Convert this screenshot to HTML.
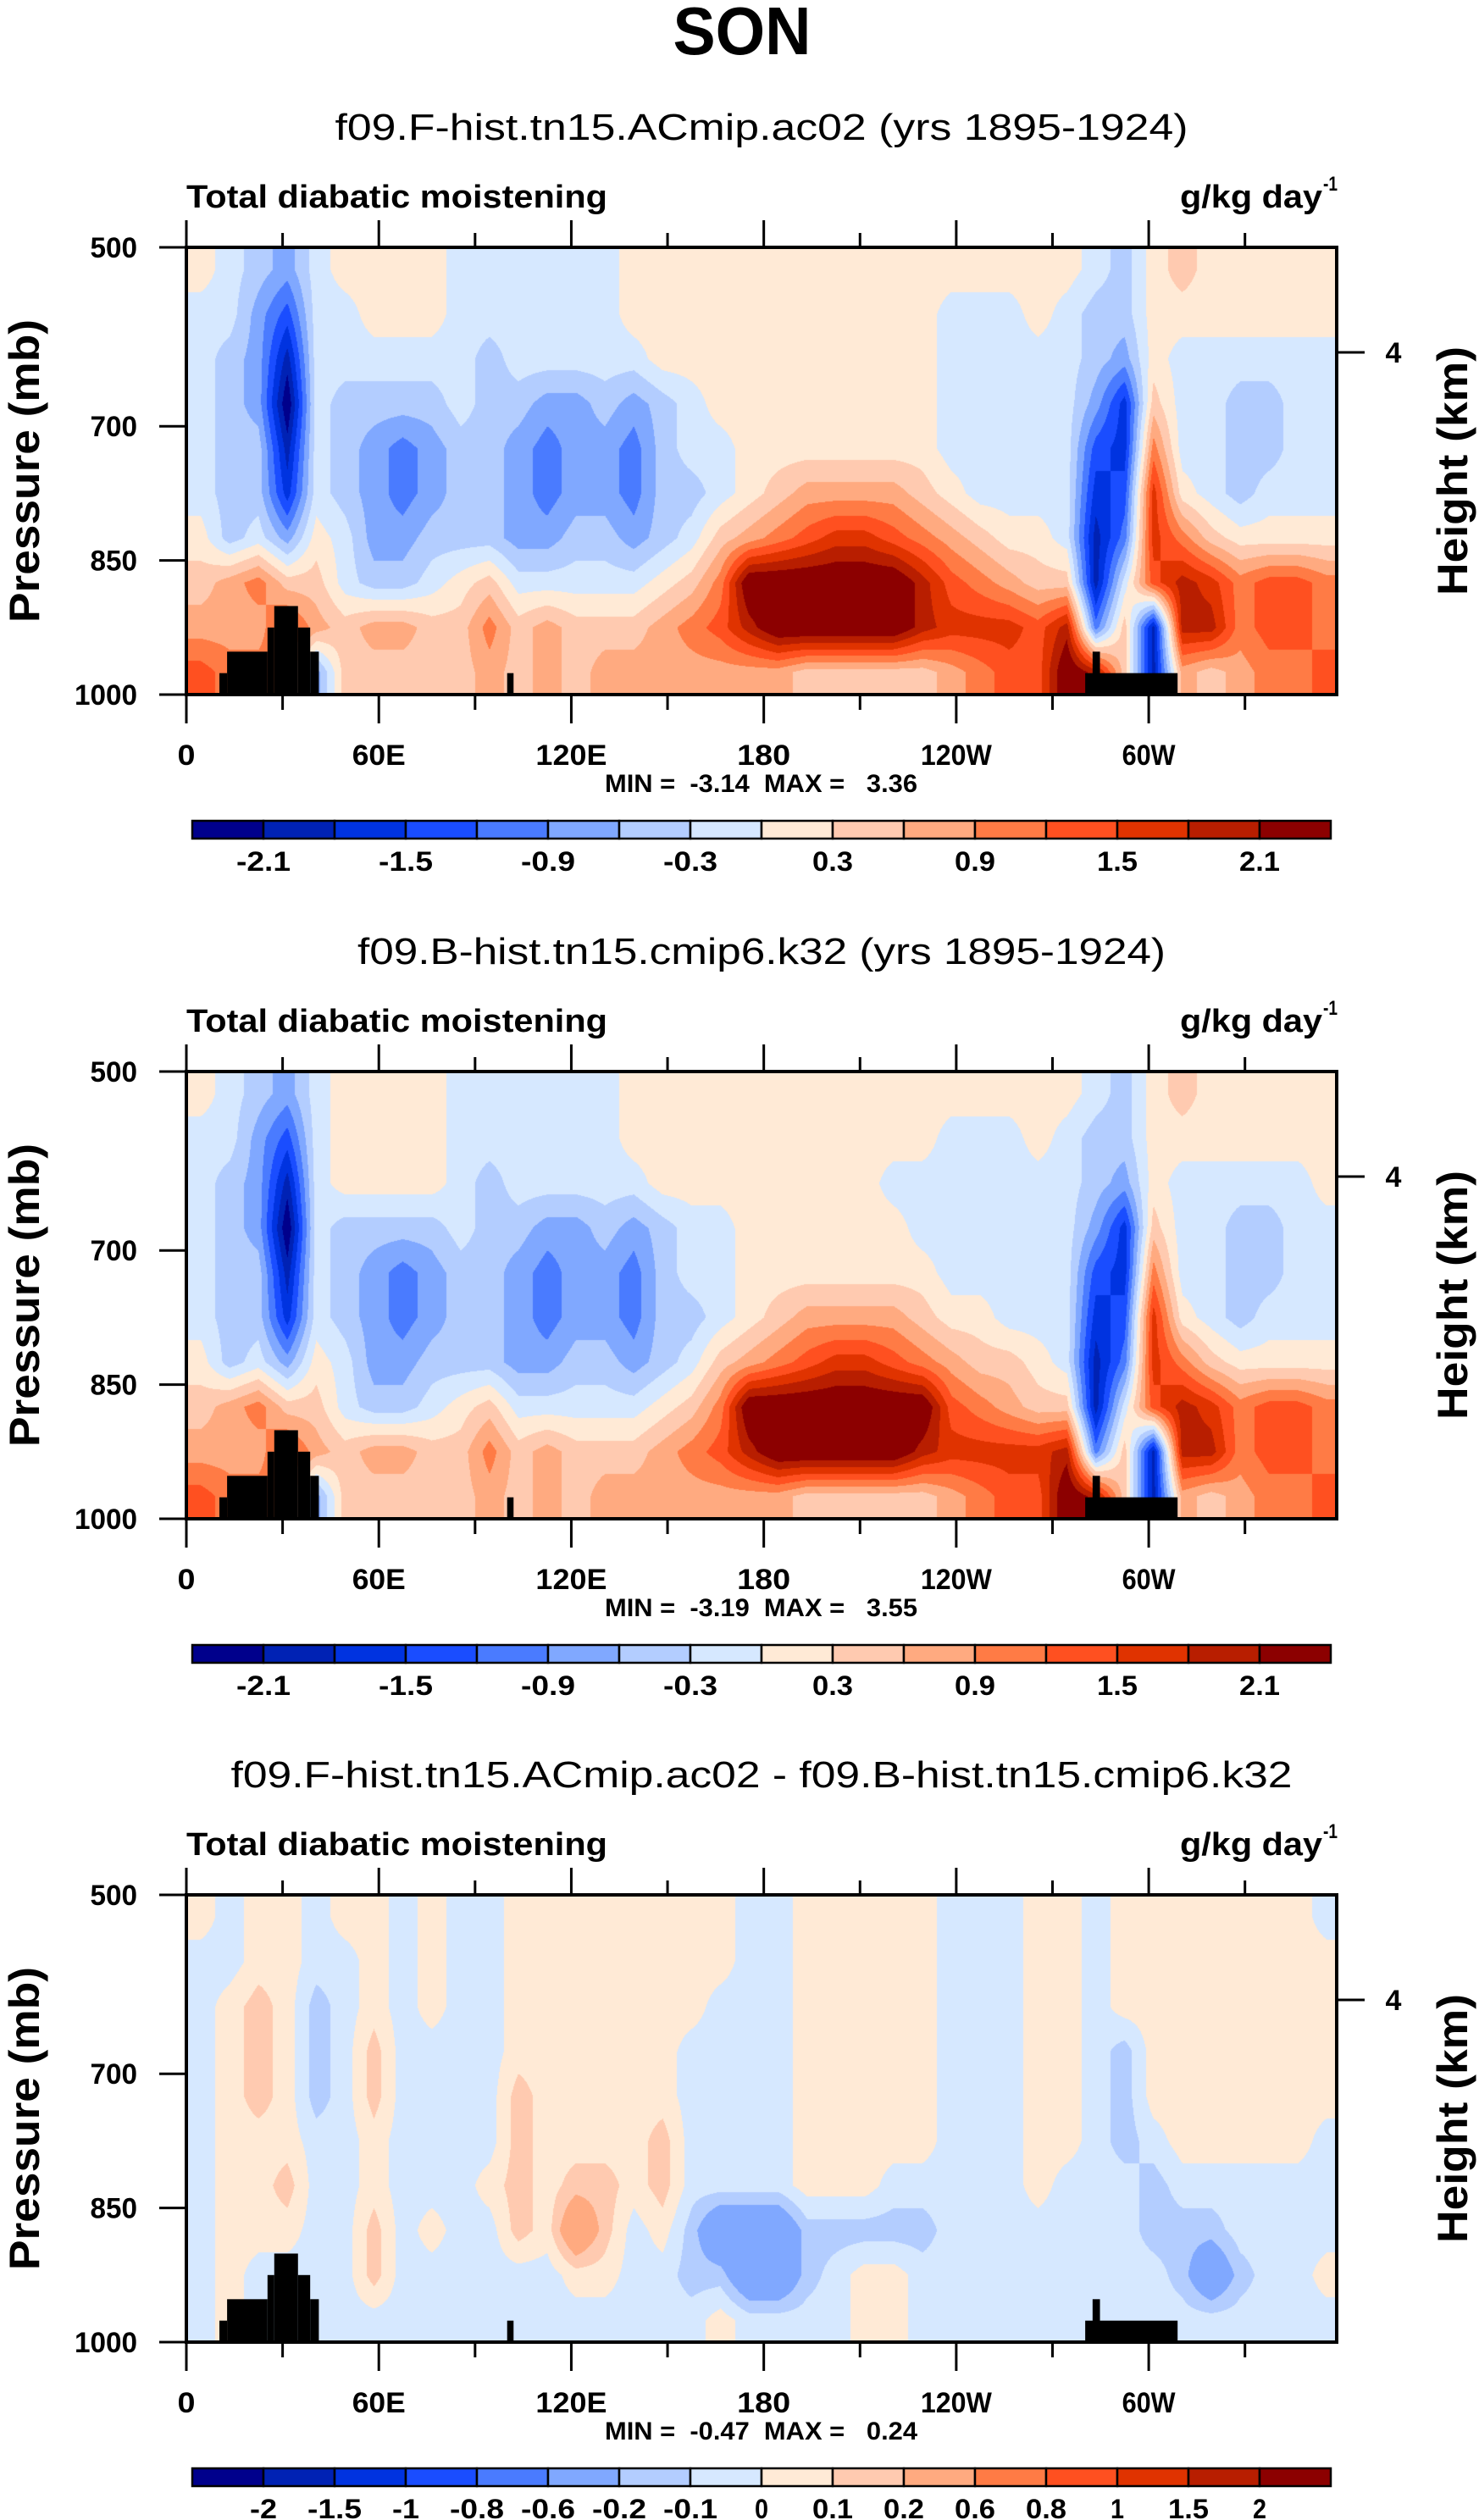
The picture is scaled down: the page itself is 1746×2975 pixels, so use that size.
<!DOCTYPE html>
<html><head><meta charset="utf-8">
<style>
html,body{margin:0;padding:0;background:#fff;}
#wrap{position:relative;width:1746px;height:2975px;overflow:hidden;background:#fff;}
canvas{position:absolute;}
svg{position:absolute;left:0;top:0;}
text{font-family:"Liberation Sans",sans-serif;fill:#000;}
.pre{white-space:pre;}
</style></head>
<body>
<div id="wrap">
<canvas id="c0" width="1358" height="528" style="left:220px;top:292px"></canvas>
<canvas id="c1" width="1358" height="528" style="left:220px;top:1265px"></canvas>
<canvas id="c2" width="1358" height="528" style="left:220px;top:2237px"></canvas>
<svg id="ov" width="1746" height="2975"></svg>
</div>
<script>
// ---- data ----
const lonCenters = [4.5,13.5,22.5,31.5,40.5,49.5,58.5,67.5,76.5,85.5,94.5,103.5,112.5,121.5,130.5,139.5,148.5,157.5,166.5,175.5,184.5,193.5,202.5,211.5,220.5,229.5,238.5,247.5,256.5,265.5,274.5,283.5,292.5,301.5,310.5,319.5,328.5,337.5,346.5,355.5];
const presCenters = [525,575,625,675,725,775,825,875,925,975];
const lonTicks = [0,60,120,180,240,300];
const lonTickLabels = ["0","60E","120E","180","120W","60W"];
const lonMinorTicks = [30,90,150,210,270,330];
const presTicks = [500,700,850,1000];
const presTickLabels = ["500","700","850","1000"];
const levelsA = [-2.1,-1.8,-1.5,-1.2,-0.9,-0.6,-0.3,0,0.3,0.6,0.9,1.2,1.5,1.8,2.1];
const levelLabelsA = ["-2.1","","-1.5","","-0.9","","-0.3","","0.3","","0.9","","1.5","","2.1"];
const levelsB = [-2,-1.5,-1,-0.8,-0.6,-0.2,-0.1,0,0.1,0.2,0.6,0.8,1,1.5,2];
const levelLabelsB = ["-2","-1.5","-1","-0.8","-0.6","-0.2","-0.1","0","0.1","0.2","0.6","0.8","1","1.5","2"];
const topoLonStart = [10.3,12.7,25.3,27.4,34.8,38.6,100,280.2,282.5];
const topoLonEnd   = [12.7,25.3,27.4,34.8,38.6,41.3,102,309,284.8];
const topoTop      = [976,952,925,901,925,952,976,976,952];

const field1 = [
[0.15,-0.15,-0.45,-0.75,-0.15,0.15,0.15,0.15,0.15,-0.15,-0.15,-0.15,-0.15,-0.15,-0.15,0.15,0.15,0.15,0.15,0.15,0.15,0.15,0.15,0.15,0.15,0.15,0.15,0.15,0.15,0.15,0.15,-0.15,-0.45,0.15,0.45,0.15,0.15,0.15,0.15,0.15],
[-0.15,-0.15,-0.75,-1.35,-0.15,-0.15,0.15,0.15,0.15,-0.15,-0.15,-0.15,-0.15,-0.15,-0.15,0.15,0.15,0.15,0.15,0.15,0.15,0.15,0.15,0.15,0.15,0.15,-0.15,-0.15,-0.15,0.15,-0.15,-0.45,-0.45,0.15,0.15,0.15,0.15,0.15,0.15,0.15],
[-0.15,-0.45,-0.75,-1.95,-0.15,-0.15,-0.15,-0.15,-0.15,-0.15,-0.45,-0.15,-0.15,-0.15,-0.15,-0.15,0.15,0.15,0.15,0.15,0.15,0.15,0.15,0.15,0.15,0.15,-0.15,-0.15,-0.15,-0.15,-0.15,-0.45,-0.75,0.15,-0.15,-0.15,-0.15,-0.15,-0.15,-0.15],
[-0.15,-0.45,-0.75,-2.4,-0.15,-0.45,-0.45,-0.45,-0.45,-0.15,-0.45,-0.45,-0.75,-0.75,-0.45,-0.75,-0.45,-0.15,0.15,0.15,0.15,0.15,0.15,0.15,0.15,0.15,-0.15,-0.15,-0.15,-0.15,-0.15,-0.75,-1.65,0.45,-0.15,-0.15,-0.45,-0.45,-0.15,-0.15],
[-0.15,-0.45,-0.45,-1.95,-0.15,-0.45,-0.75,-1.05,-0.75,-0.45,-0.45,-0.75,-1.05,-0.75,-0.75,-1.05,-0.45,-0.15,-0.15,0.15,0.15,0.15,0.15,0.15,0.15,0.15,-0.15,-0.15,-0.15,-0.15,-0.15,-1.35,-1.65,1.05,-0.15,-0.15,-0.45,-0.45,-0.15,-0.15],
[-0.15,-0.45,-0.45,-1.65,-0.15,-0.45,-0.75,-1.05,-0.75,-0.45,-0.45,-0.75,-1.05,-0.75,-0.75,-1.05,-0.45,-0.45,-0.15,0.15,0.45,0.75,0.75,0.75,0.75,0.45,0.15,-0.15,-0.15,-0.15,-0.15,-1.65,-1.35,1.65,0.15,-0.15,-0.45,-0.15,-0.15,-0.15],
[0.15,-0.45,-0.15,-0.75,0.15,-0.15,-0.75,-0.75,-0.45,-0.45,-0.45,-0.75,-0.75,-0.45,-0.45,-0.75,-0.45,-0.15,0.45,0.75,1.05,1.35,1.65,1.65,1.35,1.05,0.75,0.45,0.15,0.15,-0.15,-1.95,-1.05,1.65,1.05,0.45,0.15,0.15,0.15,0.15],
[0.45,0.75,1.05,0.45,0.45,-0.15,-0.45,-0.45,-0.15,0.15,0.45,-0.15,-0.15,-0.15,-0.15,-0.15,0.15,0.45,1.05,2.5,2.5,2.5,2.5,2.5,2.5,1.95,1.35,1.05,0.75,0.45,0.45,-1.95,-0.15,1.35,1.95,1.65,1.05,1.35,1.35,1.05],
[0.75,0.75,0.75,1.35,0.75,0.45,0.75,0.75,0.45,0.45,1.05,0.45,0.75,0.45,0.45,0.45,0.75,1.05,1.35,1.95,2.5,2.5,2.5,2.5,2.5,1.95,1.65,1.65,1.65,1.35,1.95,-1.05,0.45,-1.95,1.95,1.95,1.05,1.35,1.35,1.05],
[1.35,1.05,1.05,1.05,-0.75,0.45,0.45,0.45,0.45,0.45,0.75,0.45,0.75,0.45,0.75,0.75,0.75,0.75,0.75,0.75,0.75,0.45,0.45,0.45,0.45,0.45,0.75,1.05,1.35,1.35,2.5,1.95,0.45,-1.95,0.75,0.45,0.75,1.05,1.05,1.35]
];
const field2 = [
[0.15,-0.15,-0.45,-0.75,-0.15,0.15,0.15,0.15,0.15,-0.15,-0.15,-0.15,-0.15,-0.15,-0.15,0.15,0.15,0.15,0.15,0.15,0.15,0.15,0.15,0.15,0.15,0.15,0.15,0.15,0.15,0.15,0.15,-0.15,-0.45,0.15,0.45,0.15,0.15,0.15,0.15,0.15],
[-0.15,-0.15,-0.75,-1.35,-0.15,0.15,0.15,0.15,0.15,-0.15,-0.15,-0.15,-0.15,-0.15,-0.15,0.15,0.15,0.15,0.15,0.15,0.15,0.15,0.15,0.15,0.15,0.15,-0.15,-0.15,-0.15,0.15,-0.15,-0.45,-0.45,0.15,0.15,0.15,0.15,0.15,0.15,0.15],
[-0.15,-0.45,-0.75,-1.95,-0.15,0.15,0.15,0.15,0.15,-0.15,-0.45,-0.15,-0.15,-0.15,-0.15,-0.15,0.15,0.15,0.15,0.15,0.15,0.15,0.15,0.15,-0.15,-0.15,-0.15,-0.15,-0.15,-0.15,-0.15,-0.45,-0.75,0.15,-0.15,-0.15,-0.15,-0.15,-0.15,0.15],
[-0.15,-0.45,-0.75,-2.4,-0.15,-0.45,-0.45,-0.45,-0.45,-0.15,-0.45,-0.45,-0.75,-0.75,-0.45,-0.75,-0.45,-0.15,-0.15,0.15,0.15,0.15,0.15,0.15,0.15,-0.15,-0.15,-0.15,-0.15,-0.15,-0.15,-0.75,-1.65,0.45,-0.15,-0.15,-0.45,-0.45,-0.15,-0.15],
[-0.15,-0.45,-0.45,-1.95,-0.15,-0.45,-0.75,-1.05,-0.75,-0.45,-0.45,-0.75,-1.05,-0.75,-0.75,-1.05,-0.45,-0.15,-0.15,0.15,0.15,0.15,0.15,0.15,0.15,0.15,-0.15,-0.15,-0.15,-0.15,-0.15,-1.35,-1.65,1.05,-0.15,-0.15,-0.45,-0.45,-0.15,-0.15],
[-0.15,-0.45,-0.45,-1.65,-0.15,-0.45,-0.75,-1.05,-0.75,-0.45,-0.45,-0.75,-1.05,-0.75,-0.75,-1.05,-0.45,-0.45,-0.15,0.15,0.45,0.75,0.75,0.75,0.75,0.45,0.15,0.15,-0.15,-0.15,-0.15,-1.65,-1.35,1.65,0.15,-0.15,-0.45,-0.15,-0.15,-0.15],
[0.15,-0.45,-0.15,-0.75,0.15,-0.15,-0.75,-0.75,-0.45,-0.45,-0.45,-0.75,-0.75,-0.45,-0.45,-0.75,-0.45,-0.15,0.45,0.75,1.05,1.35,1.65,1.65,1.35,1.05,0.75,0.45,0.45,0.15,-0.15,-1.95,-1.05,1.65,1.05,0.45,0.15,0.15,0.15,0.15],
[0.45,0.75,1.05,0.45,0.45,-0.15,-0.45,-0.45,-0.15,0.15,0.45,-0.15,-0.15,-0.15,-0.15,-0.15,0.15,0.45,1.05,2.5,2.5,2.5,2.5,2.5,2.5,2.5,1.35,1.05,0.75,0.45,0.45,-1.95,-0.15,1.35,1.95,1.65,1.05,1.35,1.35,1.05],
[0.75,0.75,0.75,1.35,0.75,0.45,0.75,0.75,0.45,0.45,1.05,0.45,0.75,0.45,0.45,0.45,0.75,1.05,1.35,1.95,2.5,2.5,2.5,2.5,2.5,1.95,1.65,1.65,1.65,1.65,1.95,-1.05,0.45,-1.95,1.95,1.95,1.05,1.35,1.35,1.05],
[1.35,1.05,1.05,1.05,-0.75,0.45,0.45,0.45,0.45,0.45,0.75,0.45,0.75,0.45,0.75,0.75,0.75,0.75,0.75,0.75,0.75,0.45,0.45,0.45,0.45,0.45,0.75,1.05,1.35,1.35,2.5,1.95,0.45,-1.95,0.75,0.45,0.75,1.05,1.05,1.35]
];
const field3 = [
[0.05,-0.05,0.05,0.05,-0.05,0.05,0.05,-0.05,0.05,-0.05,-0.05,0.05,0.05,0.05,0.05,0.05,0.05,0.05,0.05,-0.05,-0.05,0.05,0.05,0.05,0.05,0.05,-0.05,-0.05,-0.05,0.05,0.05,-0.05,0.05,0.05,0.05,0.05,0.05,0.05,0.05,-0.05],
[-0.05,-0.05,0.05,0.05,-0.05,-0.05,0.05,-0.05,0.05,-0.05,-0.05,0.05,0.05,0.05,0.05,0.05,0.05,0.05,0.05,-0.05,-0.05,0.05,0.05,0.05,0.05,0.05,-0.05,-0.05,-0.05,0.05,0.05,-0.05,0.05,0.05,0.05,0.05,0.05,0.05,0.05,0.05],
[-0.05,0.05,0.15,0.05,-0.15,-0.05,0.05,-0.05,0.05,-0.05,-0.05,0.05,0.05,0.05,0.05,0.05,0.05,0.05,-0.05,-0.05,-0.05,0.05,0.05,0.05,0.05,0.05,-0.05,-0.05,-0.05,0.05,0.05,-0.05,0.05,0.05,0.05,0.05,0.05,0.05,0.05,0.05],
[-0.05,0.05,0.15,0.05,-0.15,-0.05,0.15,-0.05,-0.05,-0.05,-0.05,0.05,0.05,0.05,0.05,0.05,0.05,-0.05,-0.05,-0.05,-0.05,0.05,0.05,0.05,0.05,0.05,-0.05,-0.05,-0.05,0.05,0.05,-0.05,-0.15,0.05,0.05,0.05,0.05,0.05,0.05,0.05],
[-0.05,0.05,0.15,0.05,-0.15,-0.05,0.15,-0.05,-0.05,-0.05,-0.05,0.15,0.05,0.05,0.05,0.05,0.05,-0.05,-0.05,-0.05,-0.05,0.05,0.05,0.05,0.05,0.05,-0.05,-0.05,-0.05,0.05,0.05,-0.05,-0.15,0.05,0.05,0.05,0.05,0.05,0.05,0.05],
[-0.05,0.05,0.05,0.05,-0.05,-0.05,0.05,-0.05,-0.05,-0.05,-0.05,0.15,0.05,0.05,0.05,0.05,0.15,-0.05,-0.05,-0.05,-0.05,0.05,0.05,0.05,0.05,0.05,-0.05,-0.05,-0.05,0.05,0.05,-0.05,-0.15,-0.05,0.05,0.05,0.05,0.05,0.05,-0.05],
[-0.05,0.05,0.05,0.15,-0.05,-0.05,0.05,-0.05,-0.05,-0.05,0.05,0.15,0.05,0.15,0.15,0.05,0.15,-0.05,-0.05,-0.05,-0.05,0.05,0.05,0.05,-0.05,-0.05,-0.05,-0.05,-0.05,0.05,-0.05,-0.05,-0.05,-0.15,-0.05,-0.05,-0.05,-0.05,-0.05,-0.05],
[-0.05,0.05,0.05,0.05,-0.05,-0.05,0.15,-0.05,0.05,-0.05,-0.05,0.15,0.05,0.4,0.15,-0.05,0.05,-0.15,-0.4,-0.4,-0.4,-0.15,-0.15,-0.15,-0.15,-0.15,-0.05,-0.05,-0.05,-0.05,-0.05,-0.05,-0.05,-0.15,-0.15,-0.15,-0.05,-0.05,-0.05,-0.05],
[-0.05,0.05,-0.05,-0.05,-0.05,-0.05,0.15,-0.05,-0.05,-0.05,-0.05,-0.05,-0.05,0.05,0.05,-0.05,-0.05,-0.15,-0.15,-0.4,-0.4,-0.15,-0.05,0.05,0.05,-0.05,-0.05,-0.05,-0.05,-0.05,-0.05,-0.05,-0.05,-0.05,-0.15,-0.4,-0.15,-0.05,-0.05,0.05],
[-0.05,0.05,-0.05,-0.05,-0.05,-0.05,-0.05,-0.05,-0.05,-0.05,-0.05,-0.05,-0.05,-0.05,-0.05,-0.05,-0.05,-0.05,0.05,-0.05,-0.05,-0.05,-0.05,0.05,0.05,-0.05,-0.05,-0.05,-0.05,-0.05,-0.05,-0.05,-0.05,-0.05,-0.05,-0.05,-0.05,-0.05,-0.05,-0.05]
];
const titles = ["f09.F-hist.tn15.ACmip.ac02 (yrs 1895-1924)","f09.B-hist.tn15.cmip6.k32 (yrs 1895-1924)","f09.F-hist.tn15.ACmip.ac02 - f09.B-hist.tn15.cmip6.k32"];
const minmaxText = ["MIN =  -3.14  MAX =   3.36","MIN =  -3.19  MAX =   3.55","MIN =  -0.47  MAX =   0.24"];

// ---- layout ----
const COLORS = ["#00008c","#0022b4","#0033e0","#1a4dff","#4a7bff","#80a8ff","#b3cdff","#d6e8ff","#ffead6","#ffcab0","#ffaa80","#ff7b45","#ff5020","#e03300","#b81e00","#8c0000"];
const PX0=220, PW=1358, PH=528;
const TOPS=[292,1265,2237];
const TITLE_W=[1007,954,1253];
const lonX = lon => PX0 + lon*3.787;
const presY = (T,p) => T + (p-500)/500*PH;
const NS="http://www.w3.org/2000/svg";
const svg=document.getElementById('ov');
function el(tag, attrs, parent){const e=document.createElementNS(NS,tag);for(const k in attrs)e.setAttribute(k,attrs[k]);(parent||svg).appendChild(e);return e;}
function txt(s, attrs, parent){const e=el('text',attrs,parent);e.textContent=s;return e;}
function hexRgb(h){return [parseInt(h.substr(1,2),16),parseInt(h.substr(3,2),16),parseInt(h.substr(5,2),16)];}
const RGB=COLORS.map(hexRgb);
function binOf(v,levels){let i=0;while(i<levels.length && v>=levels[i])i++;return i;}

function drawField(canvasId, field, levels){
  const cv=document.getElementById(canvasId);const ctx=cv.getContext('2d');
  const img=ctx.createImageData(PW,PH);const d=img.data;
  const nc=lonCenters.length, nr=presCenters.length;
  for(let py=0;py<PH;py++){
    const p=500+(py+0.5)/PH*500;
    let fr=(p-presCenters[0])/(presCenters[1]-presCenters[0]);
    fr=Math.max(0,Math.min(nr-1,fr));
    const r0=Math.min(nr-2,Math.floor(fr)), tr=fr-r0;
    for(let px=0;px<PW;px++){
      const lon=(px+0.5)/3.787;
      let fc=(lon-lonCenters[0])/(lonCenters[1]-lonCenters[0]);
      fc=Math.max(0,Math.min(nc-1,fc));
      const c0=Math.min(nc-2,Math.floor(fc)), tc=fc-c0;
      const v=(field[r0][c0]*(1-tc)+field[r0][c0+1]*tc)*(1-tr)+(field[r0+1][c0]*(1-tc)+field[r0+1][c0+1]*tc)*tr;
      const col=RGB[binOf(v,levels)];const o=(py*PW+px)*4;
      d[o]=col[0];d[o+1]=col[1];d[o+2]=col[2];d[o+3]=255;
    }
  }
  ctx.putImageData(img,0,0);
}

const son=txt("SON",{x:876,y:64,'text-anchor':'middle','font-size':80,'font-weight':'bold',textLength:163,lengthAdjust:'spacingAndGlyphs'});



const fields=[field1,field2,field3];
for(let k=0;k<3;k++){
  const T=TOPS[k], B=T+PH;
  const levels = k<2?levelsA:levelsB;
  const labels = k<2?levelLabelsA:levelLabelsB;
  drawField('c'+k, fields[k], levels);
  const g=el('g',{});
  
  
  const t=txt(titles[k],{x:899,y:T-127,'text-anchor':'middle','font-size':44,textLength:TITLE_W[k],lengthAdjust:'spacingAndGlyphs'},g);
  
  
  const lt=txt("Total diabatic moistening",{x:220,y:T-47,'font-size':38,'font-weight':'bold',textLength:497,lengthAdjust:'spacingAndGlyphs'},g);
  
  
  const ut=txt("g/kg day",{x:1393,y:T-47,'font-size':38,'font-weight':'bold',textLength:168,lengthAdjust:'spacingAndGlyphs'},g);
  
  
  const us=txt("-1",{x:1562,y:T-67,'font-size':24,'font-weight':'bold',textLength:17,lengthAdjust:'spacingAndGlyphs'},g);
  
  
  for(let i=0;i<topoTop.length;i++){
    const x0=lonX(topoLonStart[i]), x1=lonX(topoLonEnd[i]), y0=presY(T,topoTop[i]);
    const r=el('rect',{x:x0,y:y0,width:x1-x0,height:B-y0,fill:'#000'},g);
    
    
  }
  const fr=el('rect',{x:PX0,y:T,width:PW,height:PH,fill:'none',stroke:'#000','stroke-width':4},g);
  
  
  lonTicks.forEach((lon,i)=>{
    const x=lonX(lon);
    el('line',{x1:x,y1:T,x2:x,y2:T-32,stroke:'#000','stroke-width':3},g);
    el('line',{x1:x,y1:B,x2:x,y2:B+34,stroke:'#000','stroke-width':3},g);
    const l=txt(lonTickLabels[i],{x:x,y:B+83,'text-anchor':'middle','font-size':34,'font-weight':'bold',textLength:lonTickLabels[i].length*21,lengthAdjust:'spacingAndGlyphs'},g);
    
    
  });
  lonMinorTicks.forEach(lon=>{
    const x=lonX(lon);
    el('line',{x1:x,y1:T,x2:x,y2:T-17,stroke:'#000','stroke-width':3},g);
    el('line',{x1:x,y1:B,x2:x,y2:B+18,stroke:'#000','stroke-width':3},g);
  });
  presTicks.forEach((p,i)=>{
    const y=presY(T,p);
    el('line',{x1:188,y1:y,x2:PX0,y2:y,stroke:'#000','stroke-width':3},g);
    const l=txt(presTickLabels[i],{x:162,y:y+12,'text-anchor':'end','font-size':34,'font-weight':'bold',textLength:presTickLabels[i].length*18.5,lengthAdjust:'spacingAndGlyphs'},g);
    
    
  });
  el('line',{x1:1578,y1:T+124,x2:1611,y2:T+124,stroke:'#000','stroke-width':3},g);
  const h4=txt("4",{x:1645,y:T+136,'text-anchor':'middle','font-size':34,'font-weight':'bold'},g);
  
  
  const ya=txt("Pressure (mb)",{x:0,y:0,'text-anchor':'middle','font-size':50,'font-weight':'bold',textLength:358,lengthAdjust:'spacingAndGlyphs',transform:`translate(46,${T+264}) rotate(-90)`},g);
  
  
  const yb=txt("Height (km)",{x:0,y:0,'text-anchor':'middle','font-size':50,'font-weight':'bold',textLength:294,lengthAdjust:'spacingAndGlyphs',transform:`translate(1732,${T+264}) rotate(-90)`},g);
  
  
  const mm=txt(minmaxText[k],{x:714,y:B+115,'font-size':30,'font-weight':'bold',textLength:369,lengthAdjust:'spacingAndGlyphs','class':'pre'},g);
  
  
  const cy=B+149, ch=21, cx0=227, cw=84;
  for(let i=0;i<16;i++){
    const r=el('rect',{x:cx0+i*cw,y:cy,width:cw,height:ch,fill:COLORS[i],stroke:'#000','stroke-width':2.5},g);
    
    
  }
  levels.forEach((lv,i)=>{
    if(!labels[i])return;
    const l=txt(labels[i],{x:cx0+(i+1)*cw,y:B+208,'text-anchor':'middle','font-size':32,'font-weight':'bold',textLength:labels[i].length*16,lengthAdjust:'spacingAndGlyphs'},g);
    
    
  });
}
</script>
</body></html>
